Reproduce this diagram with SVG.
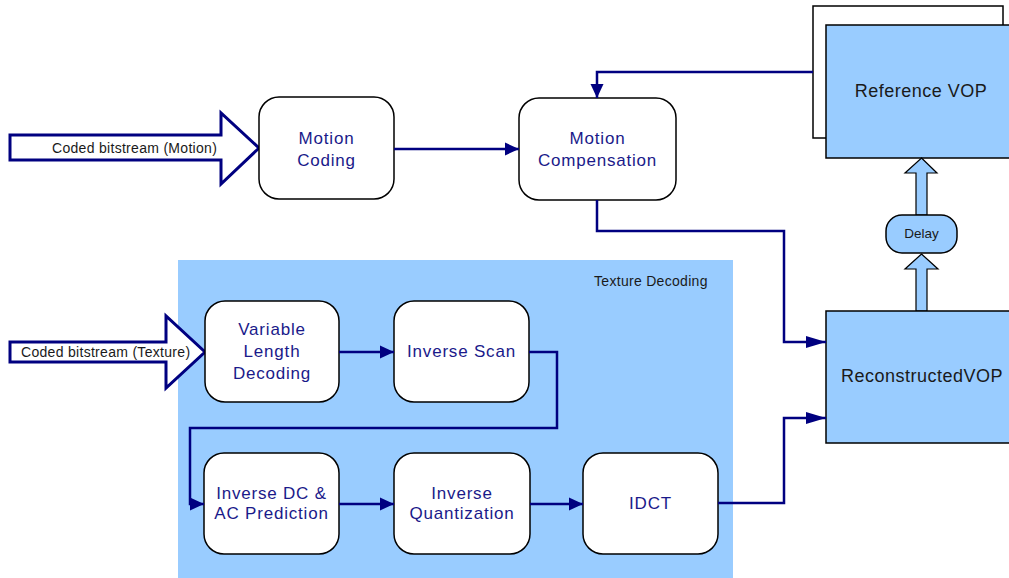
<svg xmlns="http://www.w3.org/2000/svg" width="1009" height="578" viewBox="0 0 1009 578">
<style>
.bg{fill:#99CCFF}
.box{fill:#fff;stroke:#000;stroke-width:1.5}
.blue{fill:#99CCFF;stroke:#000;stroke-width:1.5}
.bt{font-family:"Liberation Sans",Arial,sans-serif;font-size:17px;fill:#1a1a8a;text-anchor:middle;letter-spacing:0.8px}
.st{font-family:"Liberation Sans",Arial,sans-serif;font-size:14px;fill:#1a1a1a;letter-spacing:0.3px}
.vt{font-family:"Liberation Sans",Arial,sans-serif;font-size:18px;fill:#1a1a1a;text-anchor:middle;letter-spacing:0.5px}
.con{fill:none;stroke:#000080;stroke-width:2.5}
.big{fill:#fff;stroke:#000080;stroke-width:3;stroke-linejoin:miter}
.up{fill:#99CCFF;stroke:#000;stroke-width:1.2}
</style>
<defs>
<marker id="ah" markerUnits="userSpaceOnUse" markerWidth="14" markerHeight="14" refX="14" refY="7" orient="auto">
<path d="M0,0.5 L14,7 L0,13.5 z" fill="#000080"/>
</marker>
<marker id="ahl" markerUnits="userSpaceOnUse" markerWidth="20" markerHeight="14" refX="20" refY="7" orient="auto">
<path d="M0,1 L20,7 L0,13 z" fill="#000080"/>
</marker>
</defs>

<g id="texture-decoding">
<rect class="bg" x="178" y="260" width="555" height="318"/>
<text class="st" x="594" y="286">Texture Decoding</text>
</g>

<g id="input-motion">
<polygon class="big" points="10,135 221,135 221,113 259,148 221,184 221,160 10,160"/>
<text class="st" x="52" y="153">Coded bitstream (Motion)</text>
</g>

<g id="input-texture">
<polygon class="big" points="10,342 166,342 166,316 205,352 166,388 166,362 10,362"/>
<text class="st" x="21" y="357">Coded bitstream (Texture)</text>
</g>

<g id="motion-coding">
<rect class="box" x="259" y="97" width="135" height="102" rx="20"/>
<text class="bt" x="326.5" y="144">Motion</text>
<text class="bt" x="326.5" y="166">Coding</text>
</g>

<g id="motion-compensation">
<rect class="box" x="519" y="98" width="157" height="102" rx="20"/>
<text class="bt" x="597.5" y="144">Motion</text>
<text class="bt" x="597.5" y="166">Compensation</text>
</g>

<g id="reference-vop">
<rect class="box" x="813" y="6" width="190" height="132"/>
<rect class="blue" x="826" y="25" width="195" height="133"/>
<text class="vt" x="921" y="97">Reference VOP</text>
</g>

<g id="delay">
<polygon class="up" points="921.5,158 937,173 927,173 927,215 916,215 916,173 905,173"/>
<polygon class="up" points="921.5,254 938,269 927,269 927,311 916,311 916,269 905,269"/>
<rect class="blue" x="886" y="215" width="71" height="38" rx="16" ry="16"/>
<text class="st" x="921.5" y="238" text-anchor="middle" style="font-size:13.5px;letter-spacing:0">Delay</text>
</g>

<g id="reconstructed-vop">
<rect class="blue" x="826" y="311" width="195" height="132"/>
<text class="vt" x="922" y="382">ReconstructedVOP</text>
</g>

<g id="vld">
<rect class="box" x="205" y="301" width="134" height="101" rx="20"/>
<text class="bt" x="272" y="335">Variable</text>
<text class="bt" x="272" y="357">Length</text>
<text class="bt" x="272" y="379">Decoding</text>
</g>

<g id="inverse-scan">
<rect class="box" x="394" y="301" width="135" height="101" rx="20"/>
<text class="bt" x="461.5" y="357">Inverse Scan</text>
</g>

<g id="inverse-dc-ac">
<rect class="box" x="204" y="453" width="135" height="101" rx="20"/>
<text class="bt" x="271.5" y="499">Inverse DC &amp;</text>
<text class="bt" x="271.5" y="519">AC Prediction</text>
</g>

<g id="inverse-quantization">
<rect class="box" x="394" y="453" width="136" height="101" rx="20"/>
<text class="bt" x="462" y="499">Inverse</text>
<text class="bt" x="462" y="519">Quantization</text>
</g>

<g id="idct">
<rect class="box" x="583" y="453" width="135" height="101" rx="20"/>
<text class="bt" x="650.5" y="509">IDCT</text>
</g>

<g id="connectors">
<polyline class="con" points="394,149 519,149" marker-end="url(#ah)"/>
<polyline class="con" points="813,72 597,72 597,98" marker-end="url(#ah)"/>
<polyline class="con" points="597,200 597,231 784,231 784,342 826,342" marker-end="url(#ahl)"/>
<polyline class="con" points="718,503 784,503 784,418 826,418" marker-end="url(#ahl)"/>
<polyline class="con" points="339,352 394,352" marker-end="url(#ah)"/>
<polyline class="con" points="529,352 557,352 557,428 190,428 190,504 204,504" marker-end="url(#ah)"/>
<polyline class="con" points="339,504 394,504" marker-end="url(#ah)"/>
<polyline class="con" points="530,504 583,504" marker-end="url(#ah)"/>
</g>
</svg>
